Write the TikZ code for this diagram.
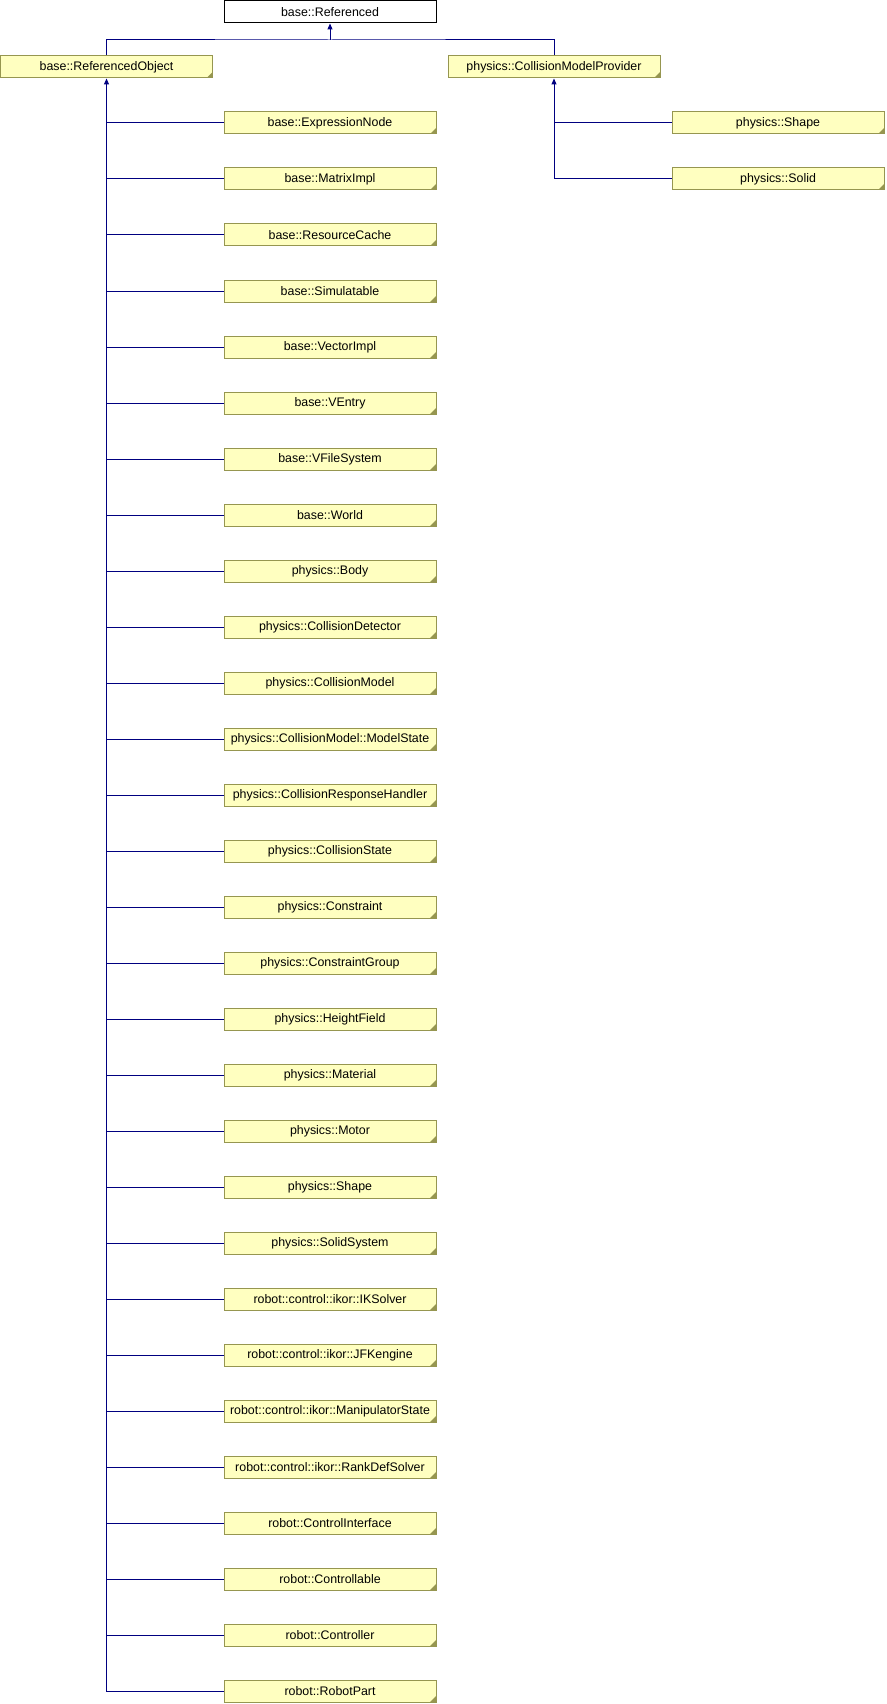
\documentclass[tikz,border=0pt]{standalone}
\usepackage{fontspec}
\setmainfont{Liberation Sans}
\usepackage{xcolor}
\usepackage{tikz}
\usetikzlibrary{arrows.meta,positioning,calc}

\definecolor{clsfill}{RGB}{255,255,192}
\definecolor{clsline}{RGB}{150,150,80}
\definecolor{inhblue}{RGB}{0,0,128}

\tikzset{
  cls/.style={draw=clsline, fill=clsfill, line width=1pt, minimum width=212pt,
    minimum height=22pt, inner sep=0pt,
    path picture={\fill[clsline] (path picture bounding box.south east)
      -- ++(-6pt,0) -- ++(6pt,6pt) -- cycle;}},
  rootcls/.style={draw=black, fill=white, line width=1pt, minimum width=212pt,
    minimum height=22pt, inner sep=0pt},
  edge/.style={draw=inhblue, line width=1pt},
  inh/.style={edge, -{Triangle[length=6pt,width=5pt]}}
}

\begin{document}
\begin{tikzpicture}[x=1pt, y=-1pt, every node/.style={font=\fontsize{12.4}{14}\selectfont}]
    \useasboundingbox (0,0) rectangle (886,1704);

    % Top of the hierarchy
    \node[rootcls] (ref) at (330,12) {base::Referenced};
    \node[cls] (refobj) at (106.5,67) {base::ReferencedObject};
    \node[cls] (cmp) at (554,67) {physics::CollisionModelProvider};
    \coordinate (jt) at (330,40);
    \draw[edge] (refobj.north) |- (jt) -| (cmp.north);
    \draw[inh] (jt) -- (ref.south);

    % Subclasses of base::ReferencedObject
    \foreach \cname [count=\i] in {base::ExpressionNode, base::MatrixImpl,
        base::ResourceCache, base::Simulatable, base::VectorImpl, base::VEntry,
        base::VFileSystem, base::World, physics::Body, physics::CollisionDetector,
        physics::CollisionModel, physics::CollisionModel::ModelState,
        physics::CollisionResponseHandler, physics::CollisionState,
        physics::Constraint, physics::ConstraintGroup, physics::HeightField,
        physics::Material, physics::Motor, physics::Shape, physics::SolidSystem,
        robot::control::ikor::IKSolver, robot::control::ikor::JFKengine,
        robot::control::ikor::ManipulatorState, robot::control::ikor::RankDefSolver,
        robot::ControlInterface, robot::Controllable, robot::Controller,
        robot::RobotPart} {
        \node[cls] (c\i) at (330,{123+56*(\i-1)}) {\cname};
    }
    \draw[inh] (c29.west) -| (refobj.south);
    \foreach \i in {1,...,28} {
        \draw[edge] (c\i.west) -- (c\i.west -| refobj.south);
    }

    % Subclasses of physics::CollisionModelProvider
    \node[cls] (shape) at (778,123) {physics::Shape};
    \node[cls] (solid) at (778,179) {physics::Solid};
    \draw[inh] (solid.west) -| (cmp.south);
    \draw[edge] (shape.west) -- (shape.west -| cmp.south);
\end{tikzpicture}
\end{document}
